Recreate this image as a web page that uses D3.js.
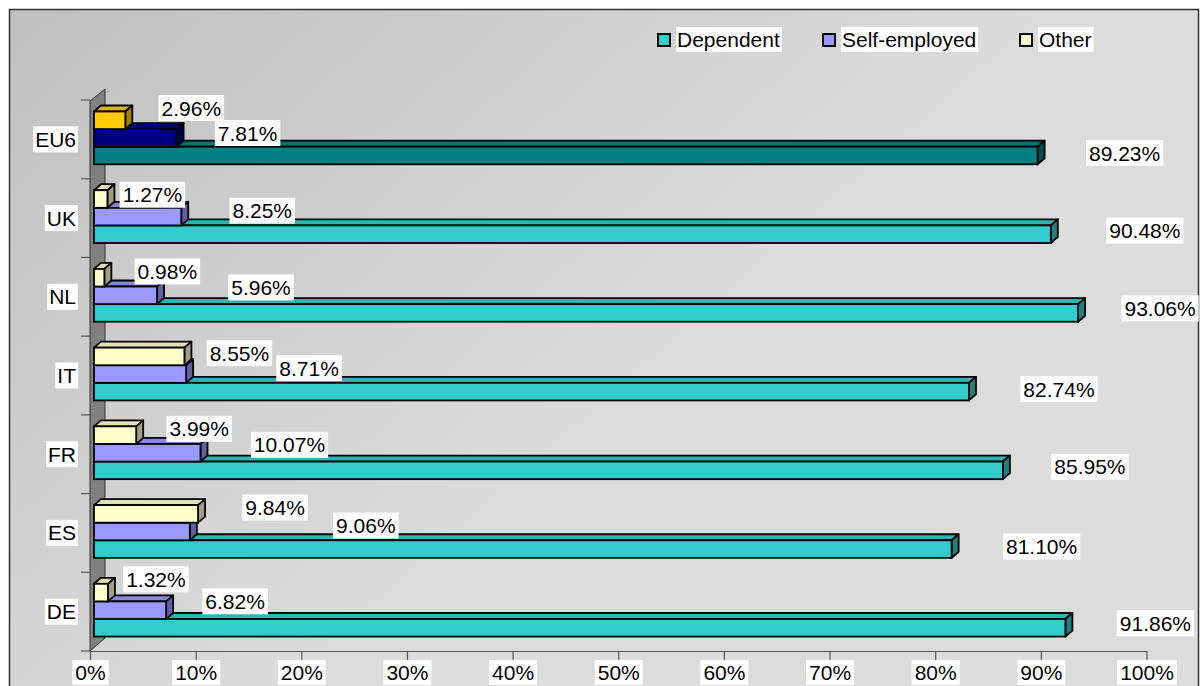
<!DOCTYPE html>
<html>
<head>
<meta charset="utf-8">
<script src="https://cdn.jsdelivr.net/npm/d3@7"></script>
<style>
  html, body { margin: 0; padding: 0; background: #ffffff; }
  svg { display: block; }
  text { font-family: "Liberation Sans", Arial, sans-serif; font-size: 21px; fill: #000; }
</style>
</head>
<body>
<svg id="chart" width="1200" height="686"></svg>
<script>
// ---------- data ----------
const categories = ["EU6", "UK", "NL", "IT", "FR", "ES", "DE"];
const seriesNames = ["Dependent", "Self-employed", "Other"];
const dependent    = [89.23, 90.48, 93.06, 82.74, 85.95, 81.10, 91.86];
const selfEmployed = [7.81, 8.25, 5.96, 8.71, 10.07, 9.06, 6.82];
const other        = [2.96, 1.27, 0.98, 8.55, 3.99, 9.84, 1.32];
const tickValues   = [0, 10, 20, 30, 40, 50, 60, 70, 80, 90, 100];

// ---------- styling / layout (not data) ----------
const colors = {
  normal: ["#33CCCC", "#9999FF", "#FFFFCC"],
  highlight: ["#008080", "#000080", "#FFCC00"]   // EU6
};
// label placement nudges (px from bar end / band top), per series, in category order
const labelNudge = {
  "Dependent":     [[87,53],[94,52],[82,51],[90,53],[87,52],[90,53],[90,51]],
  "Self-employed": [[71,33],[81,32],[104,30],[123,32],[89,30],[176,32],[69,29]],
  "Other":         [[66,8],[45,16],[63,14],[55,17],[63,14],[77,14],[48,7]]
};

const svg = d3.select("#chart");

// background gradient
const defs = svg.append("defs");
const grad = defs.append("linearGradient").attr("id", "bg")
  .attr("gradientUnits", "userSpaceOnUse")
  .attr("x1", 9).attr("y1", 9).attr("x2", 471).attr("y2", 534);
grad.append("stop").attr("offset", 0).attr("stop-color", "#c0c0c0");
grad.append("stop").attr("offset", 1).attr("stop-color", "#dcdcdc");

svg.append("rect").attr("x", 9.5).attr("y", 9.5).attr("width", 1189).attr("height", 700)
  .attr("fill", "url(#bg)").attr("stroke", "#333").attr("stroke-width", 1.5);

// scales
const xAxisScale = d3.scaleLinear().domain([0, 100]).range([90, 1146.5]);
const xBar = d3.scaleLinear().domain([0, 100]).range([94, 94 + 1057.5]);
const y = d3.scaleBand().domain(categories).range([100, 651]).paddingInner(0).paddingOuter(0);
const bw = y.bandwidth();
const barH = bw * 0.2236;
const groupTop = bw * 0.146;
const dx = 7, dy = 6;

// left wall
const wallDX = 15, wallDY = 12;
svg.append("path")
  .attr("d", `M90,${y.range()[0] + 1} L${90 + wallDX},${y.range()[0] + 1 - wallDY} L${90 + wallDX},${651 - wallDY - 1} L90,651 Z`)
  .attr("fill", "#808080").attr("stroke", "#333").attr("stroke-width", 1);

// left ticks at band boundaries
const boundaries = categories.map(c => y(c)).concat([y.range()[1]]);
svg.append("g").selectAll("line").data(boundaries).join("line")
  .attr("x1", 81).attr("x2", 90).attr("y1", d => d).attr("y2", d => d)
  .attr("stroke", "#555").attr("stroke-width", 1.2);

// bottom axis
const axis = d3.axisBottom(xAxisScale).tickValues(tickValues)
  .tickFormat(d => d + "%").tickSize(9).tickSizeOuter(0).tickPadding(5);
const gAxis = svg.append("g").attr("transform", "translate(0,651)").call(axis);
gAxis.select(".domain").attr("stroke", "#555").attr("stroke-width", 1.2);
gAxis.selectAll(".tick line").attr("stroke", "#555").attr("stroke-width", 1.2);
gAxis.selectAll(".tick text").attr("font-size", 21).attr("font-family", "Liberation Sans, Arial, sans-serif").attr("fill", "#000");
gAxis.selectAll(".tick").each(function () {
  const t = d3.select(this).select("text");
  const bb = t.node().getBBox();
  d3.select(this).insert("rect", "text")
    .attr("x", bb.x - 3).attr("y", bb.y - 1).attr("width", bb.width + 6).attr("height", bb.height + 2)
    .attr("fill", "#fff");
});

// bars
const seriesData = [dependent, selfEmployed, other];
const gBars = svg.append("g");
function bar3d(g, v, yTop, fill) {
  const x0 = xBar(0), x1 = xBar(v);
  const c = d3.color(fill);
  const topC = c.darker(0.35).formatHex();
  const sideC = c.darker(1.3).formatHex();
  const sw = 1.8;
  g.append("path")
    .attr("d", `M${x0},${yTop} L${x0 + dx},${yTop - dy} L${x1 + dx},${yTop - dy} L${x1},${yTop} Z`)
    .attr("fill", topC).attr("stroke", "#000").attr("stroke-width", sw).attr("stroke-linejoin", "round");
  g.append("path")
    .attr("d", `M${x1},${yTop} L${x1 + dx},${yTop - dy} L${x1 + dx},${yTop - dy + barH} L${x1},${yTop + barH} Z`)
    .attr("fill", sideC).attr("stroke", "#000").attr("stroke-width", sw).attr("stroke-linejoin", "round");
  g.append("rect")
    .attr("x", x0).attr("y", yTop).attr("width", x1 - x0).attr("height", barH)
    .attr("fill", fill).attr("stroke", "#000").attr("stroke-width", sw);
}
categories.forEach((cat, i) => {
  const g = gBars.append("g");
  const pal = cat === "EU6" ? colors.highlight : colors.normal;
  // draw bottom (Dependent) first, then Self-employed, then Other on top
  [0, 1, 2].forEach(s => {
    const slot = 2 - s; // Other in slot 0 (top)
    const yTop = y(cat) + groupTop + slot * barH;
    bar3d(g, seriesData[s][i], yTop, pal[s]);
  });
});

// value labels
const gLabels = svg.append("g");
categories.forEach((cat, i) => {
  [2, 1, 0].forEach(s => {
    const v = seriesData[s][i];
    const nudge = labelNudge[seriesNames[s]][i];
    const cx = xBar(v) + nudge[0];
    const cy = y(cat) + nudge[1];
    const g = gLabels.append("g");
    const t = g.append("text").attr("x", cx).attr("y", cy).attr("dy", "0.36em")
      .attr("text-anchor", "middle").text(v.toFixed(2) + "%");
    const bb = t.node().getBBox();
    g.insert("rect", "text").attr("x", bb.x - 3).attr("y", cy - 13)
      .attr("width", bb.width + 6).attr("height", 26).attr("fill", "#fff");
  });
});

// category labels
const gCat = svg.append("g");
categories.forEach(cat => {
  const cy = y(cat) + bw / 2;
  const g = gCat.append("g");
  const t = g.append("text").attr("x", 76).attr("y", cy).attr("dy", "0.36em")
    .attr("text-anchor", "end").text(cat);
  const bb = t.node().getBBox();
  g.insert("rect", "text").attr("x", bb.x - 2).attr("y", cy - 13)
    .attr("width", bb.width + 4).attr("height", 26).attr("fill", "#fff");
});

// legend
const legendX = [658, 823, 1020];
const gLeg = svg.append("g");
seriesNames.forEach((name, s) => {
  const g = gLeg.append("g");
  g.append("rect").attr("x", legendX[s]).attr("y", 34).attr("width", 12).attr("height", 12)
    .attr("fill", colors.normal[s]).attr("stroke", "#000").attr("stroke-width", 2);
  const t = g.append("text").attr("x", legendX[s] + 19).attr("y", 39.5).attr("dy", "0.36em").text(name);
  const bb = t.node().getBBox();
  g.insert("rect", "text").attr("x", bb.x - 1).attr("y", 27).attr("width", bb.width + 3).attr("height", 25).attr("fill", "#fff");
});
</script>
</body>
</html>
